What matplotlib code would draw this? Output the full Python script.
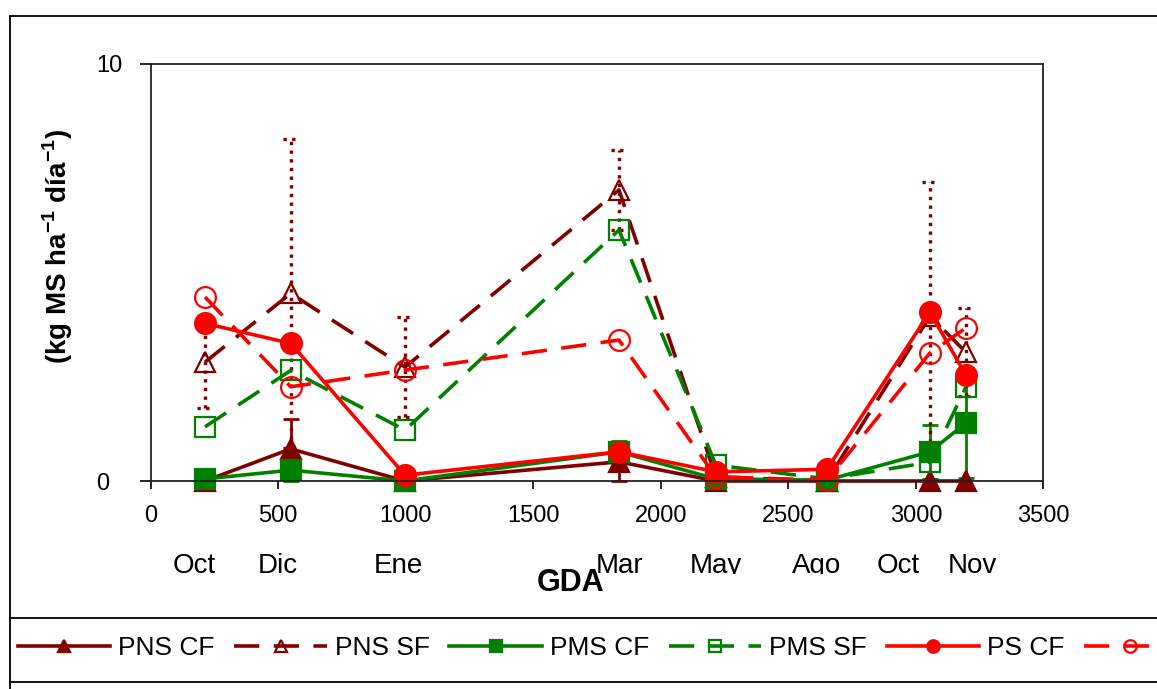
import matplotlib
matplotlib.use("Agg")
import matplotlib.pyplot as plt
import numpy as np
from matplotlib.lines import Line2D
from matplotlib.transforms import Bbox, TransformedBbox

plt.rcParams['font.family'] = ['Liberation Sans', 'DejaVu Sans']
plt.rcParams['mathtext.fontset'] = 'custom'
plt.rcParams['mathtext.rm'] = 'Liberation Sans'
plt.rcParams['mathtext.bf'] = 'Liberation Sans:bold'

# grados-dia acumulados de cada corte
gda = np.array([213, 549, 997, 1836, 2216, 2651, 3055, 3196])
meses = ["Oct", "Dic", "Ene", "Mar", "May", "Ago", "Oct", "Nov"]
mes_x = [194, 278, 398, 620, 716, 817, 898, 972]  # px, centro de cada rotulo

pns_cf = np.array([0.0, 0.77, 0.0, 0.46, 0.0, 0.0, 0.0, 0.0])
pns_sf = np.array([2.85, 4.50, 2.73, 6.98, 0.10, 0.0, 3.95, 3.09])
pms_cf = np.array([0.05, 0.26, 0.0, 0.70, 0.05, 0.02, 0.70, 1.39])
pms_sf = np.array([1.30, 2.65, 1.22, 6.02, 0.38, 0.05, 0.45, 2.25])
ps_cf = np.array([3.78, 3.30, 0.14, 0.70, 0.22, 0.28, 4.05, 2.54])
ps_sf = np.array([4.41, 2.26, 2.66, 3.38, 0.10, 0.02, 3.07, 3.67])

pns_cf_err = np.array([0, 0.72, 0, 0.46, 0, 0, 0, 0])
pns_sf_err = np.array([1.10, 3.70, 1.20, 0.96, 0, 0, 3.22, 1.06])
pms_cf_err = np.array([0, 0.26, 0, 0.26, 0, 0, 0.65, 1.32])

DARK = "#800000"
GREEN = "#008000"
RED = "#FF0000"

W, H = 1157, 689
fig = plt.figure(figsize=(W / 100, H / 100), dpi=100)
ax = fig.add_axes([150.7 / W, 1 - 481 / H, (1043.4 - 150.7) / W, (481 - 64) / H])

# barras de error
def solid_err(y, e, color):
    m = e > 0
    ax.errorbar(gda[m], y[m], yerr=e[m], fmt="none", ecolor=color, elinewidth=2,
                capsize=6, capthick=2, zorder=1.5, clip_on=False)

solid_err(pns_cf, pns_cf_err, DARK)
solid_err(pms_cf, pms_cf_err, GREEN)

m = pns_sf_err > 0
dots = (0, (1, 1.6))
ax.vlines(gda[m], pns_sf[m] - pns_sf_err[m], pns_sf[m] + pns_sf_err[m],
          colors=DARK, linestyles=[dots], lw=2.4, zorder=1.5)
cap = 32
for yy in (pns_sf[m] - pns_sf_err[m], pns_sf[m] + pns_sf_err[m]):
    ax.hlines(yy, gda[m] - cap, gda[m] + cap, colors=DARK, linestyles=[dots],
              lw=2.4, zorder=1.5)

series = [
    ("PNS CF", pns_cf, DARK, "-", "^", True),
    ("PNS SF", pns_sf, DARK, "--", "^", False),
    ("PMS CF", pms_cf, GREEN, "-", "s", True),
    ("PMS SF", pms_sf, GREEN, "--", "s", False),
    ("PS CF", ps_cf, RED, "-", "o", True),
    ("PS SF", ps_sf, RED, "--", "o", False),
]
handles = []
for label, y, c, ls, mk, filled in series:
    kw = dict(color=c, lw=2.6, marker=mk, ms=15, mec=c, mew=1.6,
              mfc=c if filled else "none", clip_on=False, label=label)
    if ls == "--":
        kw["dashes"] = (7, 4)
    (ln,) = ax.plot(gda, y, **kw)
    handles.append(ln)

ax.set_xlim(0, 3500)
ax.set_ylim(0, 10)
ax.set_xticks(np.arange(0, 3501, 500))
ax.set_yticks([0, 10])
for s in ax.spines.values():
    s.set_linewidth(1.3)
    s.set_color("#222222")
ax.tick_params(axis="x", direction="out", length=6, width=1.2, pad=11, labelsize=17)
ax.tick_params(axis="y", direction="out", length=8, width=1.2, pad=31, labelsize=17)
for t in ax.get_yticklabels():
    t.set_horizontalalignment("left")

# rotulos de meses (recortados por abajo)
clip = TransformedBbox(Bbox([[0, 1 - 574 / H], [1, 1]]), fig.transFigure)
for lab, px in zip(meses, mes_x):
    t = fig.text(px / W, 1 - 573 / H, lab, ha="center", va="baseline", fontsize=20)
    t.set_clip_box(clip)
    t.set_clip_on(True)

fig.text(571 / W, 1 - 583 / H, "GDA", ha="center", va="center", fontsize=22,
         fontweight="bold")
fig.text(58 / W, 1 - 246 / H, r"(kg MS ha$^{\mathbf{-1}}$ día$^{\mathbf{-1}}$)",
         rotation=90, ha="center", va="center", fontsize=20, fontweight="bold")

fig.legend(handles=handles, loc="center left", bbox_to_anchor=(18 / W, 1 - 648 / H),
           ncol=6, frameon=False, fontsize=19, handlelength=3.5, handletextpad=0.3,
           columnspacing=0.75, borderaxespad=0, borderpad=0, markerscale=0.6)

# marco del grafico
for xs, ys in [([10, W], [16, 16]), ([10, 10], [16, H]),
               ([10, W], [618, 618]), ([10, W], [682, 682])]:
    fig.add_artist(Line2D([x / W for x in xs], [1 - y / H for y in ys],
                          transform=fig.transFigure, color="black", lw=1.3))

fig.savefig("out.png", dpi=100)
